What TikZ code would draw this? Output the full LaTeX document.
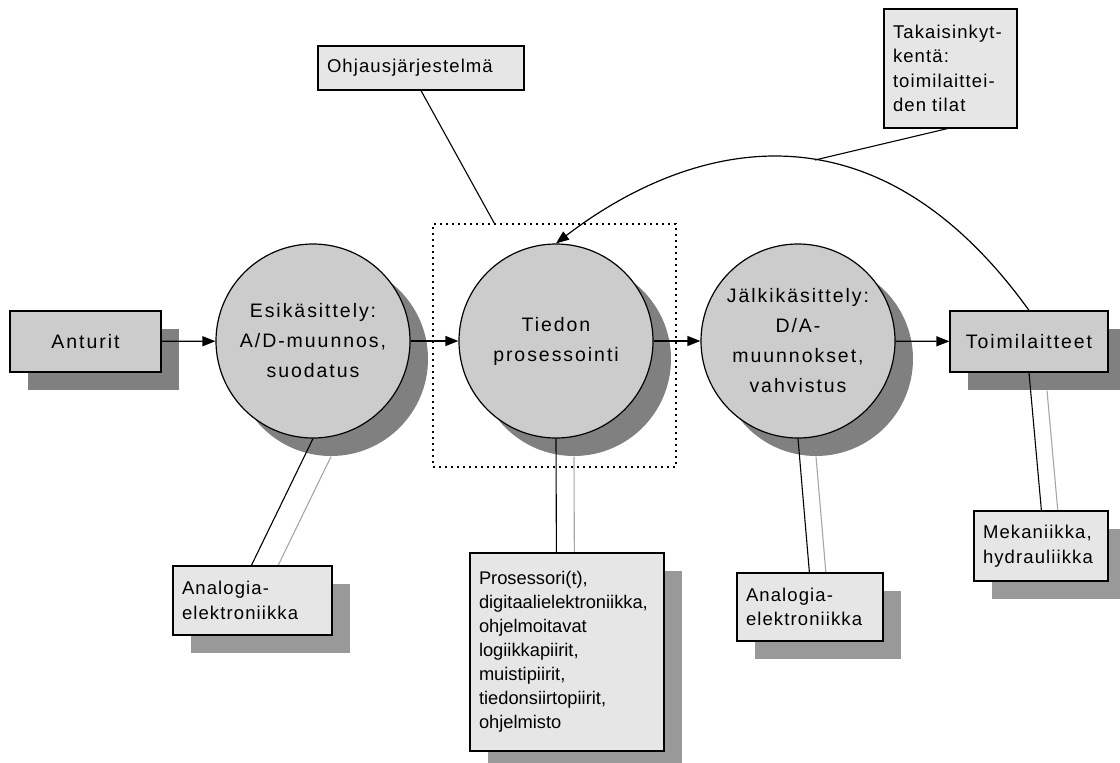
\documentclass[tikz,border=0pt]{standalone}
\usepackage{fontspec}
\setmainfont{Liberation Sans}
\newfontfamily\widefam{Liberation Sans}[LetterSpace=10]
\newfontfamily\narrowfam{Liberation Sans}[LetterSpace=6]
\newfontfamily\plainfam{Liberation Sans}
\usetikzlibrary{arrows.meta,shadows}
\definecolor{fillmain}{HTML}{CCCCCC}
\definecolor{fillnote}{HTML}{E6E6E6}
\definecolor{shadowmain}{HTML}{808080}
\definecolor{shadownote}{HTML}{999999}
\definecolor{ghostline}{HTML}{A6A6A6}
\newcommand{\wideface}{\widefam\fontsize{19.5pt}{30pt}\selectfont\hyphenpenalty=10000 }
\newcommand{\narrowface}{\narrowfam\fontsize{18.5pt}{24.5pt}\selectfont\hyphenpenalty=10000 \exhyphenpenalty=10000 }
\newcommand{\listface}{\plainfam\fontsize{18.3pt}{24pt}\selectfont\hyphenpenalty=10000 \exhyphenpenalty=10000 }
\pgfdeclarelayer{bg}
\pgfsetlayers{bg,main}
\begin{document}
\begin{tikzpicture}[x=1pt,y=-1pt,
  mainshape/.style={draw, line width=1.2pt, fill=fillmain, inner sep=0pt, font=\wideface,
    general shadow={fill=shadowmain, shadow xshift=18pt, shadow yshift=-18pt}},
  stage/.style={mainshape, circle, minimum size=194pt, align=center},
  endbox/.style={mainshape, rectangle, align=center},
  notebase/.style={draw, line width=1.2pt, fill=fillnote, inner xsep=9pt, inner ysep=0pt,
    align=left, font=\narrowface},
  note/.style={notebase, general shadow={fill=shadownote, shadow xshift=18pt, shadow yshift=-18pt}},
  flow/.style={line width=1.2pt, -{Triangle[length=13pt,width=10pt]}},
  leader/.style={line width=1.1pt},
  ghost/.style={line width=1.1pt, draw=ghostline},
  boundary/.style={line width=1.2pt, dash pattern=on 1.6pt off 4.4pt}
]
\useasboundingbox (0,0) rectangle (1120,763);

% control-system boundary around the processing stage
\node[boundary, draw, minimum width=243pt, minimum height=243pt] (ctrl) at (554.5,345.5) {};

% signal chain
\node[endbox, minimum width=151pt, minimum height=61pt] (sens) at (85.5,341.5) {Anturit};
\node[stage] (pre) at (313,341) {Esikäsittely:\\A/D-muunnos,\\suodatus};
\node[stage] (proc) at (556,341) {Tiedon\\prosessointi};
\node[stage] (post) at (798,341) {Jälkikäsittely:\\D/A-\\muunnokset,\\vahvistus};
\node[endbox, minimum width=158pt, minimum height=61pt] (act) at (1029,341.5) {Toimilaitteet};

\draw[flow] (sens) -- (pre);
\draw[flow] (pre) -- (proc);
\draw[flow] (proc) -- (post);
\draw[flow] (post) -- (act);

% feedback loop
\draw[flow] (act.north) .. controls (864,81) and (674,153) .. (proc.north);
\coordinate (fbjoin) at (815,160);

% annotation notes
\node[notebase, text width=188pt, minimum height=44pt] (ctrlnote) at (421,68) {Ohjausjärjestelmä};
\node[notebase, text width=115pt, minimum height=119pt] (fbnote) at (950.5,68.5)
  {Takaisinkyt-\\kentä:\\toimilaittei-\\den tilat};
\node[note, text width=141pt, minimum height=69pt] (anaL) at (252.5,600.5) {Analogia-\\elektroniikka};
\node[note, font=\listface, text width=176pt, minimum height=198pt] (chips) at (567,652)
  {Prosessori(t),\\digitaalielektroniikka,\\ohjelmoitavat\\logiikkapiirit,\\muistipiirit,\\tiedonsiirtopiirit,\\ohjelmisto};
\node[note, text width=128pt, minimum height=68pt] (anaR) at (810,607) {Analogia-\\elektroniikka};
\node[note, text width=116pt, minimum height=70pt] (mech) at (1041,546) {Mekaniikka,\\hydrauliikka};

% leader lines to the notes
\draw[leader] (ctrlnote.south) -- ([xshift=62pt]ctrl.north west);
\draw[leader] ([xshift=64pt]fbnote.south west) -- (fbjoin);
\draw[leader] (pre.south) -- ([xshift=79pt]anaL.north west);
\draw[leader] (proc.south) -- ([xshift=87pt]chips.north west);
\draw[leader] (post.south) -- ([xshift=73pt]anaR.north west);
\draw[leader] (act.south) -- ([xshift=68pt]mech.north west);

% shadow-side leader lines, hidden behind the notes
\begin{pgfonlayer}{bg}
\draw[ghost] ([shift={(18,18)}]pre.south) -- ([shift={(97,18)}]anaL.north west);
\draw[ghost] ([shift={(18,18)}]proc.south) -- ([shift={(105,18)}]chips.north west);
\draw[ghost] ([shift={(18,18)}]post.south) -- ([shift={(91,18)}]anaR.north west);
\draw[ghost] ([shift={(18,18)}]act.south) -- ([shift={(86,18)}]mech.north west);
\end{pgfonlayer}
\end{tikzpicture}
\end{document}
